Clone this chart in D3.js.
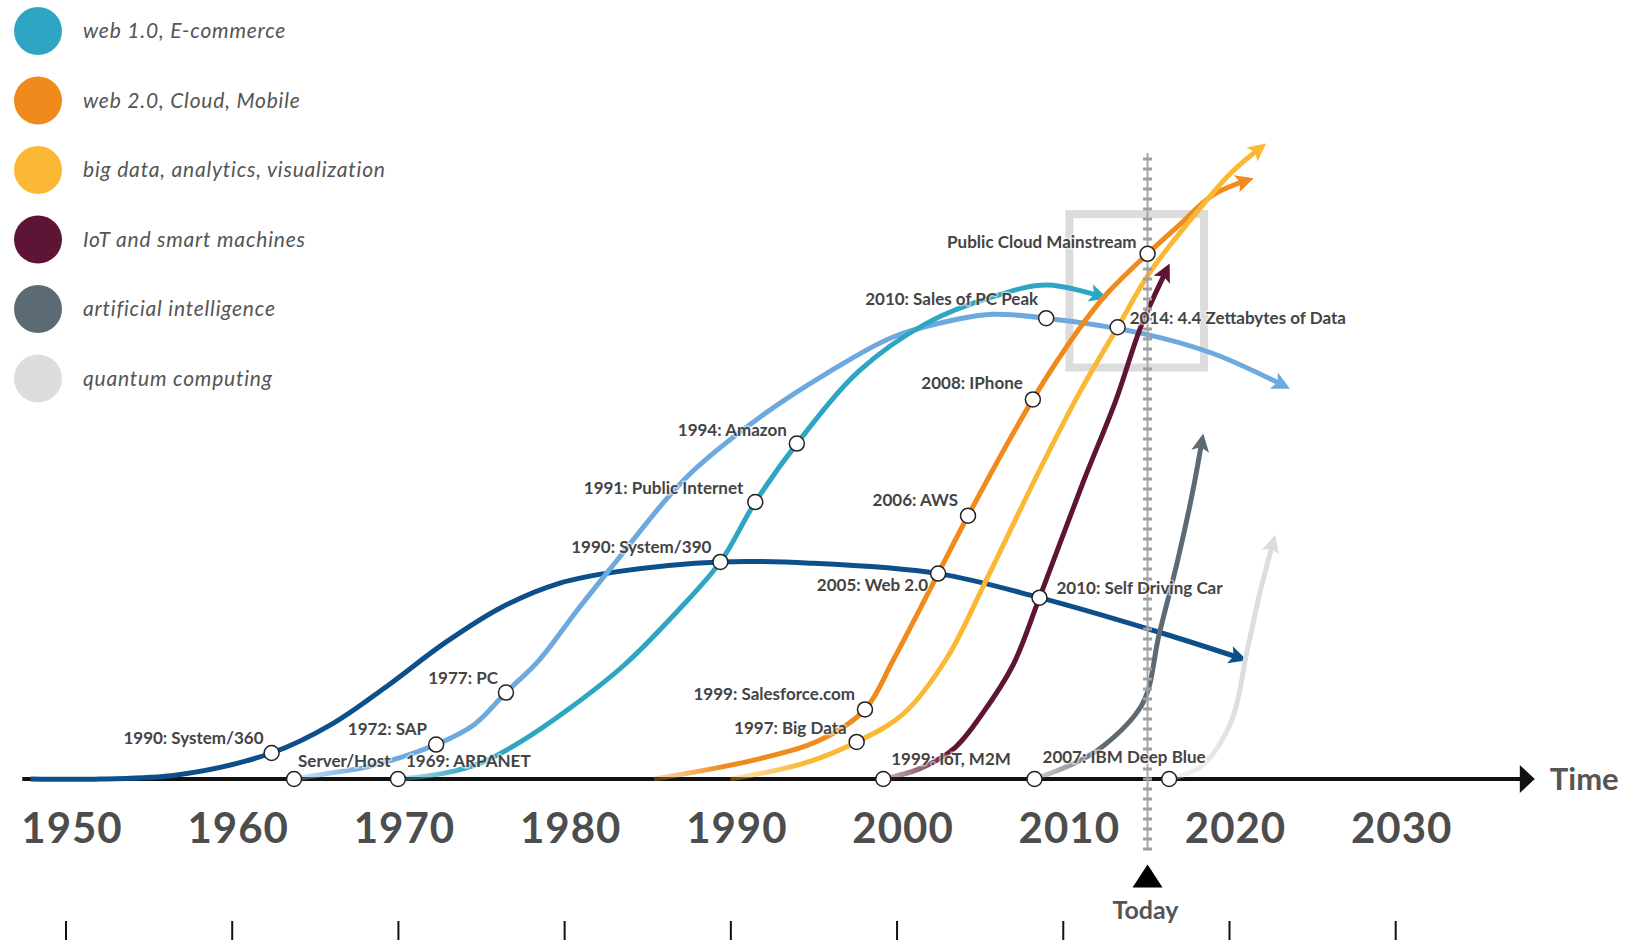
<!DOCTYPE html>
<html>
<head>
<meta charset="utf-8">
<script src="https://cdn.jsdelivr.net/npm/d3@7"></script>
<style>
  html, body { margin: 0; padding: 0; background: #fff; }
  svg { display: block; font-family: Lato, "Open Sans", sans-serif; }
</style>
</head>
<body>
<svg id="chart" width="1629" height="943"></svg>
<script>
// ── Data ─────────────────────────────────────────────────────────────────────
// each wave: [year, adoption (0 = time axis, arbitrary units)]
const mainframePts = [[1947.9,0],[1952.1,0],[1956.7,0.6],[1962.4,4.0],[1966.0,8.4],[1969.3,14.2],[1972.8,20.9],
  [1976.3,26.5],[1979.7,30.1],[1983.2,31.9],[1989.4,33.4],[1994.8,33.2],[2002.5,31.6],[2008.6,27.9],[2015.9,22.5],[2020.8,18.5]];
const pcPts = [[1963.75,0],[1965.9,0.9],[1968.2,1.9],[1972.3,5.3],[1974.6,8.4],[1976.5,13.3],[1978.5,18.3],[1980.8,26.0],
  [1983.2,33.7],[1986.1,42.9],[1987.8,47.5],[1991.8,55.7],[1995.8,62.4],[1999.8,68.0],[2003.8,70.8],[2005.8,71.5],
  [2009.0,70.9],[2014.7,68.6],[2019.0,65.5],[2023.4,60.4]];
const web1Pts = [[1970.0,0],[1972.8,0.9],[1975.1,2.6],[1977.3,5.6],[1980.4,11.0],[1983.6,17.5],[1986.7,25.5],[1989.4,33.4],
  [1991.5,42.6],[1994.0,51.6],[1997.8,62.9],[2001.8,70.1],[2005.8,74.2],[2009.0,76.0],[2012.4,74.2]];
const web2Pts = [[1985.4,0],[1991.4,2.9],[1995.4,6.0],[1998.1,10.7],[1999.8,18.3],[2002.5,31.6],[2004.3,40.5],[2008.2,58.4],
  [2011.0,69.3],[2012.6,74.5],[2015.1,80.8],[2017.0,85.2],[2019.0,89.8],[2021.2,92.2]];
const bigDataPts = [[1990.0,0],[1994.4,2.4],[1997.6,5.7],[2000.4,10.0],[2003.0,18.5],[2005.3,30.1],[2008.6,47.5],[2011.0,59.4],
  [2013.3,69.5],[2015.2,77.8],[2018.0,87.0],[2020.1,93.2],[2022.0,97.3]];
const iotPts = [[1999.2,0],[2001.4,1.6],[2003.5,4.8],[2005.2,10.2],[2007.0,17.5],[2008.6,27.9],[2011.2,45.5],[2013.2,58.3],
  [2014.7,69.6],[2016.3,78.6]];
const aiPts = [[2008.3,0],[2010.5,2.2],[2012.3,4.8],[2014.8,11.6],[2015.8,22.3],[2016.9,33.5],[2017.8,44.0],[2018.4,52.4]];
const quantumPts = [[2016.4,0],[2018.3,1.9],[2020.1,8.6],[2021.1,19.8],[2021.9,29.1],[2022.7,36.8]];

// milestones sitting on the waves: [year, adoption, label]
const milestones = [
  [1962.4, 4.0, '1990: System/360'],
  [1963.75, 0, 'Server/Host'],
  [1970.0, 0, '1969: ARPANET'],
  [1972.3, 5.3, '1972: SAP'],
  [1976.5, 13.3, '1977: PC'],
  [1989.4, 33.4, '1990: System/390'],
  [1991.5, 42.6, '1991: Public Internet'],
  [1994.0, 51.6, '1994: Amazon'],
  [2009.0, 70.9, '2010: Sales of PC Peak'],
  [2015.1, 80.8, 'Public Cloud Mainstream'],
  [2013.3, 69.5, '2014: 4.4 Zettabytes of Data'],
  [2008.2, 58.4, '2008: IPhone'],
  [2004.3, 40.5, '2006: AWS'],
  [2002.5, 31.6, '2005: Web 2.0'],
  [2008.6, 27.9, '2010: Self Driving Car'],
  [1998.1, 10.7, '1999: Salesforce.com'],
  [1997.6, 5.7, '1997: Big Data'],
  [1999.2, 0, '1999: IoT, M2M'],
  [2008.3, 0, '2007: IBM Deep Blue'],
  [2016.4, 0, '']
];

const legendLabels = ['web 1.0, E-commerce', 'web 2.0, Cloud, Mobile', 'big data, analytics, visualization',
  'IoT and smart machines', 'artificial intelligence', 'quantum computing'];
const legendColors = ['#2ea6c3', '#f08a1c', '#fbb834', '#5e1434', '#5c6a73', '#dddddd'];

const decades   = [1950, 1960, 1970, 1980, 1990, 2000, 2010, 2020, 2030];
const axisSpan  = [1947.4, 2038.4];
const today     = 2015.1;
const todaySpan = [-11, 96.3];
const focusYears  = [2010.4, 2018.5];
const focusValues = [63.3, 86.9];

// ── Label placement: [anchor, dx, dy] relative to the milestone dot ─────────
const labelPlacement = {
  '1990: System/360': ['end', -8, -9],
  'Server/Host': ['start', 4, -12],
  '1969: ARPANET': ['start', 8, -12],
  '1972: SAP': ['end', -9, -10],
  '1977: PC': ['end', -8, -9],
  '1990: System/390': ['end', -9, -9],
  '1991: Public Internet': ['end', -12, -8],
  '1994: Amazon': ['end', -10, -8],
  '2010: Sales of PC Peak': ['end', -8, -13],
  'Public Cloud Mainstream': ['end', -11, -6],
  '2014: 4.4 Zettabytes of Data': ['start', 12, -3],
  '2008: IPhone': ['end', -10, -10],
  '2006: AWS': ['end', -10, -10],
  '2005: Web 2.0': ['end', -10, 17],
  '2010: Self Driving Car': ['start', 17, -4],
  '1999: Salesforce.com': ['end', -10, -9],
  '1997: Big Data': ['end', -10, -8],
  '1999: IoT, M2M': ['start', 8, -14],
  '2007: IBM Deep Blue': ['start', 8, -16]
};

// ── Scales ────────────────────────────────────────────────────────────────
const x = d3.scaleLinear().domain([1950, 2030]).range([65.5, 1395.2]);
const y = d3.scaleLinear().domain([0, 100]).range([779, 129]);

const svg  = d3.select('#chart');
const defs = svg.append('defs');

const series = [
  { key: 'mainframe', color: '#0d4f8b', pts: mainframePts, fade: false },
  { key: 'pc',        color: '#6ea9de', pts: pcPts,        fade: true },
  { key: 'web1',      color: '#2ea6c3', pts: web1Pts,      fade: true },
  { key: 'web2',      color: '#f08a1c', pts: web2Pts,      fade: true },
  { key: 'bigdata',   color: '#fbb834', pts: bigDataPts,   fade: true },
  { key: 'iot',       color: '#5e1434', pts: iotPts,       fade: true },
  { key: 'ai',        color: '#5c6a73', pts: aiPts,        fade: true },
  { key: 'quantum',   color: '#dddddd', pts: quantumPts,   fade: true }
];

// ── Focus box around "today" ─────────────────────────────────────────────
svg.append('rect')
  .attr('x', x(focusYears[0])).attr('y', y(focusValues[1]))
  .attr('width', x(focusYears[1]) - x(focusYears[0]))
  .attr('height', y(focusValues[0]) - y(focusValues[1]))
  .attr('fill', 'none').attr('stroke', '#dcdcdc').attr('stroke-width', 8);

// ── Time axis ────────────────────────────────────────────────────────────
const axisY = y(0);
svg.append('line')
  .attr('x1', x(axisSpan[0])).attr('x2', x(axisSpan[1]) - 12)
  .attr('y1', axisY).attr('y2', axisY)
  .attr('stroke', '#111').attr('stroke-width', 4);
svg.append('path')
  .attr('d', `M${x(axisSpan[1])},${axisY} L${x(axisSpan[1]) - 15},${axisY - 14} L${x(axisSpan[1]) - 15},${axisY + 14} Z`)
  .attr('fill', '#111');
svg.append('text')
  .attr('x', x(axisSpan[1]) + 15).attr('y', axisY + 11)
  .attr('font-size', 31).attr('font-weight', 700).attr('fill', '#555')
  .text('Time');

// decade labels
svg.append('g')
  .attr('transform', `translate(0,${axisY})`)
  .call(d3.axisBottom(x).tickValues(decades).tickSize(0).tickPadding(34).tickFormat(d3.format('d')))
  .call(a => a.select('.domain').remove())
  .call(a => a.selectAll('text')
    .attr('dx', 6)
    .attr('fill', '#4d4d4d').attr('font-size', 42).attr('font-weight', 700)
    .attr('letter-spacing', 1)
    .attr('font-family', 'Lato, sans-serif'));

// bottom tick marks
svg.append('g')
  .attr('transform', 'translate(0,921)')
  .call(d3.axisBottom(x).tickValues(decades).tickSize(19).tickFormat(''))
  .call(a => a.select('.domain').remove())
  .call(a => a.selectAll('line').attr('stroke', '#111').attr('stroke-width', 2));

// ── Waves ────────────────────────────────────────────────────────────────
const line = d3.line()
  .x(d => x(d[0])).y(d => y(d[1]))
  .curve(d3.curveCatmullRom.alpha(0.5));

series.forEach(s => {
  defs.append('marker')
    .attr('id', 'arrow-' + s.key)
    .attr('viewBox', '-2 -10 22 20')
    .attr('markerUnits', 'userSpaceOnUse')
    .attr('markerWidth', 22).attr('markerHeight', 20)
    .attr('refX', 13).attr('refY', 0)
    .attr('orient', 'auto')
    .append('path')
    .attr('d', 'M0,-9L18,0L0,9L4,0Z')
    .attr('fill', s.color);

  let stroke = s.color;
  if (s.fade) {
    const x0 = x(s.pts[0][0]);
    const grad = defs.append('linearGradient')
      .attr('id', 'fade-' + s.key)
      .attr('gradientUnits', 'userSpaceOnUse')
      .attr('x1', x0).attr('x2', x0 + 70).attr('y1', 0).attr('y2', 0);
    grad.append('stop').attr('offset', 0).attr('stop-color', s.color).attr('stop-opacity', 0.3);
    grad.append('stop').attr('offset', 1).attr('stop-color', s.color).attr('stop-opacity', 1);
    stroke = `url(#fade-${s.key})`;
  }

  svg.append('path')
    .datum(s.pts)
    .attr('d', line)
    .attr('fill', 'none')
    .attr('stroke', stroke)
    .attr('stroke-width', 5)
    .attr('marker-end', `url(#arrow-${s.key})`);
});

// ── Today marker ─────────────────────────────────────────────────────────
const tx = x(today);
svg.append('line')
  .attr('x1', tx).attr('x2', tx)
  .attr('y1', y(todaySpan[0])).attr('y2', y(todaySpan[1]))
  .attr('stroke', '#a6a6a6').attr('stroke-width', 2);
svg.append('line')
  .attr('x1', tx).attr('x2', tx)
  .attr('y1', y(todaySpan[0])).attr('y2', y(todaySpan[1]))
  .attr('stroke', '#a0a0a0').attr('stroke-width', 9)
  .attr('stroke-dasharray', '3,7');

const triTop = y(todaySpan[0]) + 14;
svg.append('path')
  .attr('d', `M${tx},${triTop} L${tx + 15},${triTop + 23} L${tx - 15},${triTop + 23} Z`)
  .attr('fill', '#000');
svg.append('text')
  .attr('x', tx - 2).attr('y', triTop + 54)
  .attr('text-anchor', 'middle')
  .attr('font-size', 25).attr('font-weight', 700).attr('fill', '#555')
  .text('Today');

// ── Milestone dots and labels ────────────────────────────────────────────
svg.append('g').selectAll('circle')
  .data(milestones)
  .join('circle')
  .attr('cx', d => x(d[0])).attr('cy', d => y(d[1]))
  .attr('r', 7.5)
  .attr('fill', '#fff').attr('stroke', '#222').attr('stroke-width', 1.5);

svg.append('g').selectAll('text')
  .data(milestones.filter(d => d[2]))
  .join('text')
  .attr('x', d => x(d[0]) + labelPlacement[d[2]][1])
  .attr('y', d => y(d[1]) + labelPlacement[d[2]][2])
  .attr('text-anchor', d => labelPlacement[d[2]][0])
  .attr('font-size', 17).attr('font-weight', 700).attr('fill', '#444')
  .attr('stroke', '#fff').attr('stroke-width', 3).attr('stroke-opacity', 0.55)
  .attr('paint-order', 'stroke')
  .text(d => d[2]);

// ── Legend ───────────────────────────────────────────────────────────────
const legend = svg.append('g');
legendLabels.forEach((label, i) => {
  const cy = 31 + i * 69.5;
  legend.append('circle')
    .attr('cx', 38).attr('cy', cy).attr('r', 24)
    .attr('fill', legendColors[i]);
  legend.append('text')
    .attr('x', 83).attr('y', cy + 7)
    .attr('font-size', 21).attr('font-style', 'italic').attr('fill', '#555')
    .attr('letter-spacing', 0.8)
    .text(label);
});
</script>
</body>
</html>
